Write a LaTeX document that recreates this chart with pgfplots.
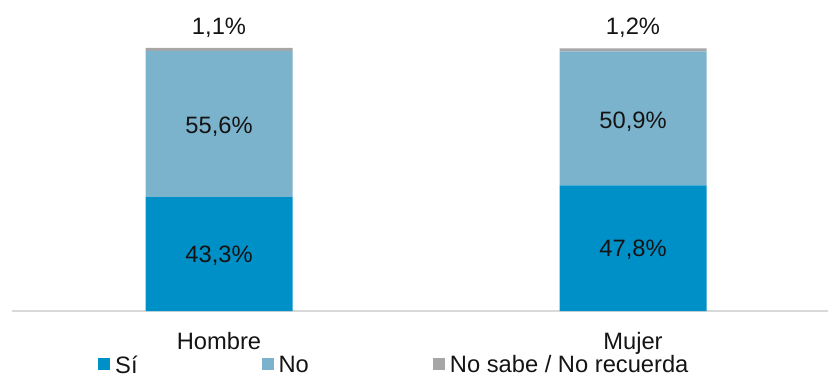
\documentclass[border=0pt]{standalone}
\usepackage{fontspec}
\setmainfont{Liberation Sans}
\usepackage{pgfplots}
\pgfplotsset{compat=1.18}
\definecolor{csi}{RGB}{0,144,200}
\definecolor{cno}{RGB}{123,179,205}
\definecolor{cns}{RGB}{166,166,166}
\definecolor{caxis}{RGB}{217,217,217}
\definecolor{ctext}{RGB}{20,20,20}
\newcommand\fs{\fontsize{23.8}{28}\selectfont}
\begin{document}
\begin{tikzpicture}
\useasboundingbox (0,0) rectangle (828bp,378bp);
\begin{axis}[
  at={(12bp,67bp)}, anchor=south west,
  scale only axis, width=816bp, height=263bp,
  xmin=-0.5, xmax=1.471, ymin=0, ymax=100,
  ybar stacked, bar width=147bp,
  axis y line=none, axis x line*=bottom,
  x axis line style={draw=caxis, line width=1.5bp, -},
  xtick={0,1}, xticklabels={Hombre,Mujer}, major tick length=0pt,
  xticklabel style={font=\fs, text=ctext, anchor=base, yshift=-38bp},
  clip=false,
  legend columns=3,
  legend image code/.code={\path[#1, draw=none] (0bp,-5bp) rectangle (12bp,7bp);},
  legend style={at={(axis description cs:0.1054,-0.2054)}, anchor=west,
    draw=none, fill=none, inner sep=0pt, font=\fs, text=ctext,
    nodes={inner sep=0pt},
    /tikz/every odd column/.append style={column sep=5bp},
    /tikz/every even column/.append style={column sep=124bp}},
]
\addplot[fill=csi, draw=none] coordinates {(0,43.3) (1,47.8)};
\addlegendentry{Sí}
\addplot[fill=cno, draw=none] coordinates {(0,55.6) (1,50.9)};
\addlegendentry{No}
\addplot[fill=cns, draw=none] coordinates {(0,1.1) (1,1.2)};
\addlegendentry{No sabe / No recuerda}
\coordinate (a1) at (axis cs:0,18.4);
\coordinate (a2) at (axis cs:0,67.4);
\coordinate (a3) at (axis cs:0,105.2);
\coordinate (b1) at (axis cs:1,20.7);
\coordinate (b2) at (axis cs:1,69.4);
\coordinate (b3) at (axis cs:1,105.2);
\end{axis}
\node[font=\fs, text=ctext, anchor=base] at (a1) {43,3\%};
\node[font=\fs, text=ctext, anchor=base] at (a2) {55,6\%};
\node[font=\fs, text=ctext, anchor=base] at (a3) {1,1\%};
\node[font=\fs, text=ctext, anchor=base] at (b1) {47,8\%};
\node[font=\fs, text=ctext, anchor=base] at (b2) {50,9\%};
\node[font=\fs, text=ctext, anchor=base] at (b3) {1,2\%};
\end{tikzpicture}
\end{document}
